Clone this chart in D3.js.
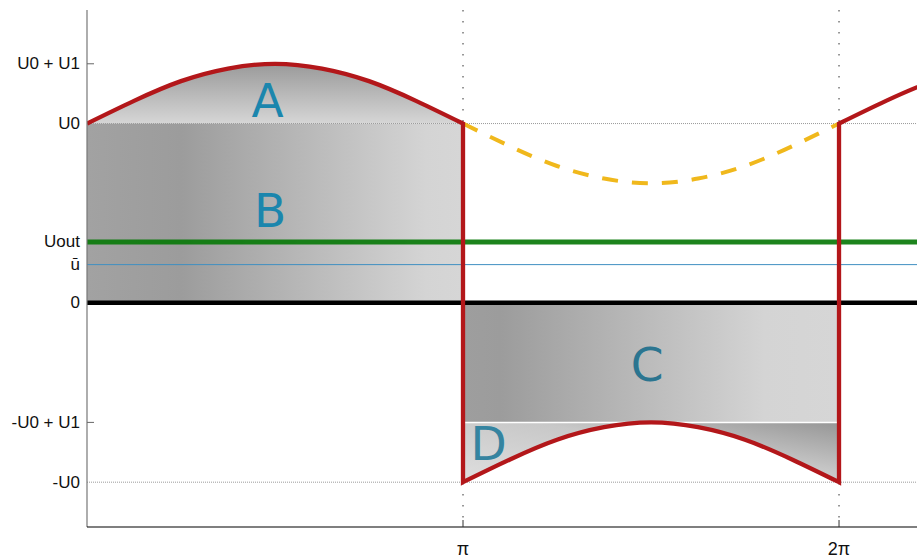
<!DOCTYPE html>
<html>
<head>
<meta charset="utf-8">
<script src="https://cdn.jsdelivr.net/npm/d3@7"></script>
<style>
  html, body { margin: 0; padding: 0; background: #fff; }
  svg { display: block; }
</style>
</head>
<body>
<svg id="chart" width="917" height="558"></svg>
<script>
// Signal levels (in units of the input amplitude)
const U0 = 3;
const U1 = 1;
const Uout = 1.02;
const uBar = 0.64;

// Tick labels on the axes
const yTickLabels = ["U0 + U1", "U0", "Uout", "ū", "0", "-U0 + U1", "-U0"];
const yTickValues = [U0 + U1, U0, Uout, uBar, 0, -U0 + U1, -U0];
const xTickValues = [Math.PI, 2 * Math.PI];
const xTickLabels = ["π", "2π"];

// Ripple shape over one half period, sampled every π/8
const ripplePhase = [0, 1, 2, 3, 4, 5, 6, 7, 8].map(k => k / 8);
const rippleShape = [0, 0.38, 0.71, 0.92, 1, 0.92, 0.71, 0.38, 0];

// Region labels: [text, x (in units of π), baseline y, colour]
const regionLabels = [
  ["A", 0.48, 3.11, "#1b86ad"],
  ["B", 0.487, 1.27, "#1b86ad"],
  ["C", 1.49, -1.31, "#2b7590"],
  ["D", 1.068, -2.63, "#3584a0"]
];

const svg = d3.select("#chart");
const plotL = 87, plotR = 917, plotT = 10, plotB = 527;

const x = d3.scaleLinear().domain([0, 2.2074 * Math.PI]).range([plotL, plotR]);
const y = d3.scaleLinear().domain([-3.75, 4.9]).range([plotB, plotT]);

const defs = svg.append("defs");
defs.append("clipPath").attr("id", "plot")
  .append("rect").attr("x", plotL).attr("y", plotT)
  .attr("width", plotR - plotL).attr("height", plotB - plotT);

function grad(id, x1, y1, x2, y2, stops) {
  const gr = defs.append("linearGradient").attr("id", id)
    .attr("x1", x1).attr("y1", y1).attr("x2", x2).attr("y2", y2);
  stops.forEach(([o, c]) => gr.append("stop").attr("offset", o).attr("stop-color", c));
}
grad("gA", 0, 0, 0, 1, [[0, "#9a9a9a"], [1, "#d6d6d6"]]);
grad("gB", 0, 0, 1, 0, [[0, "#a2a2a2"], [0.25, "#9c9c9c"], [0.9, "#d4d4d4"], [1, "#d6d6d6"]]);
grad("gC", 0, 0, 1, 0, [[0, "#9e9e9e"], [0.1, "#9c9c9c"], [0.8, "#d4d4d4"], [1, "#d6d6d6"]]);
grad("gD", 0.05, 0.9, 1, 0, [[0, "#dcdcdc"], [0.55, "#c8c8c8"], [1, "#969696"]]);

// Half-period arcs of the output waveform
const upperArc = ripplePhase.map((p, i) => [p * Math.PI, U0 + U1 * rippleShape[i]]);
const lowerArc = ripplePhase.map((p, i) => [(1 + p) * Math.PI, -U0 + U1 * rippleShape[i]]);
const nextArc = ripplePhase.map((p, i) => [(2 + p) * Math.PI, U0 + U1 * rippleShape[i]]);
const dashedArc = ripplePhase.map((p, i) => [(1 + p) * Math.PI, U0 - U1 * rippleShape[i]]);

const line = d3.line().x(d => x(d[0])).y(d => y(d[1])).curve(d3.curveNatural);

const g = svg.append("g").attr("clip-path", "url(#plot)");

// Shaded regions
g.append("path")
  .attr("d", d3.area().x(d => x(d[0])).y0(y(U0)).y1(d => y(d[1])).curve(d3.curveNatural)(upperArc))
  .attr("fill", "url(#gA)");
g.append("rect")
  .attr("x", x(0)).attr("y", y(U0))
  .attr("width", x(Math.PI) - x(0)).attr("height", y(0) - y(U0))
  .attr("fill", "url(#gB)");
g.append("rect")
  .attr("x", x(Math.PI)).attr("y", y(0))
  .attr("width", x(2 * Math.PI) - x(Math.PI)).attr("height", y(-U0 + U1) - y(0))
  .attr("fill", "url(#gC)");
g.append("path")
  .attr("d", d3.area().x(d => x(d[0])).y0(y(-U0 + U1)).y1(d => y(d[1])).curve(d3.curveNatural)(lowerArc))
  .attr("fill", "url(#gD)")
  .attr("stroke", "#fff").attr("stroke-width", 1.5);

// Dotted reference lines
[U0, -U0].forEach(v => {
  g.append("line")
    .attr("x1", plotL).attr("x2", plotR).attr("y1", y(v)).attr("y2", y(v))
    .attr("stroke", "#9a9a9a").attr("stroke-width", 1).attr("stroke-dasharray", "1,1");
});
xTickValues.forEach(v => {
  g.append("line")
    .attr("x1", x(v)).attr("x2", x(v)).attr("y1", plotT).attr("y2", plotB)
    .attr("stroke", "#555").attr("stroke-width", 1.2).attr("stroke-dasharray", "1.5,9.5");
});

// Average and output levels
g.append("line")
  .attr("x1", plotL).attr("x2", plotR).attr("y1", y(uBar)).attr("y2", y(uBar))
  .attr("stroke", "#3f8fc2").attr("stroke-width", 1);
g.append("line")
  .attr("x1", plotL).attr("x2", plotR).attr("y1", y(Uout)).attr("y2", y(Uout))
  .attr("stroke", "#0a7a0a").attr("stroke-opacity", 0.92).attr("stroke-width", 5);
g.append("line")
  .attr("x1", plotL).attr("x2", plotR).attr("y1", y(0)).attr("y2", y(0))
  .attr("stroke", "#000").attr("stroke-width", 4.5);

// Un-rectified half wave (dashed)
g.append("path")
  .attr("d", line(dashedArc))
  .attr("fill", "none").attr("stroke", "#f0b81c").attr("stroke-width", 4)
  .attr("stroke-dasharray", "16,14");

// Output waveform
const waveD = line(upperArc) + "L" + line(lowerArc).slice(1) + "L" + line(nextArc).slice(1);
g.append("path")
  .attr("d", waveD)
  .attr("fill", "none").attr("stroke", "#b3171a").attr("stroke-width", 4.3)
  .attr("stroke-linejoin", "miter").attr("stroke-miterlimit", 10);

// Region letters
regionLabels.forEach(([t, px, py, c]) => {
  svg.append("text")
    .attr("x", x(px * Math.PI)).attr("y", y(py))
    .attr("text-anchor", "middle")
    .attr("font-family", "DejaVu Sans, sans-serif").attr("font-size", 47)
    .attr("fill", c).text(t);
});

// Y axis
svg.append("line")
  .attr("x1", plotL).attr("x2", plotL).attr("y1", plotT).attr("y2", plotB)
  .attr("stroke", "#777").attr("stroke-width", 1.2);
[U0 + U1, -U0 + U1].forEach(v => {
  svg.append("line")
    .attr("x1", plotL).attr("x2", plotL + 7).attr("y1", y(v)).attr("y2", y(v))
    .attr("stroke", "#666").attr("stroke-width", 1);
});
yTickLabels.forEach((t, i) => {
  svg.append("text")
    .attr("x", 80).attr("y", y(yTickValues[i]))
    .attr("text-anchor", "end").attr("dominant-baseline", "central")
    .attr("font-family", "Liberation Sans, Arial, sans-serif").attr("font-size", 17)
    .attr("fill", "#111").text(t);
});

// X axis
svg.append("line")
  .attr("x1", plotL).attr("x2", plotR).attr("y1", plotB).attr("y2", plotB)
  .attr("stroke", "#000").attr("stroke-width", 1.2);
xTickValues.forEach((v, i) => {
  svg.append("line")
    .attr("x1", x(v)).attr("x2", x(v)).attr("y1", plotB).attr("y2", plotB - 7)
    .attr("stroke", "#333").attr("stroke-width", 1);
  svg.append("text")
    .attr("x", x(v)).attr("y", 555)
    .attr("text-anchor", "middle")
    .attr("font-family", "Liberation Sans, Arial, sans-serif").attr("font-size", 18)
    .attr("fill", "#111").text(xTickLabels[i]);
});
</script>
</body>
</html>
